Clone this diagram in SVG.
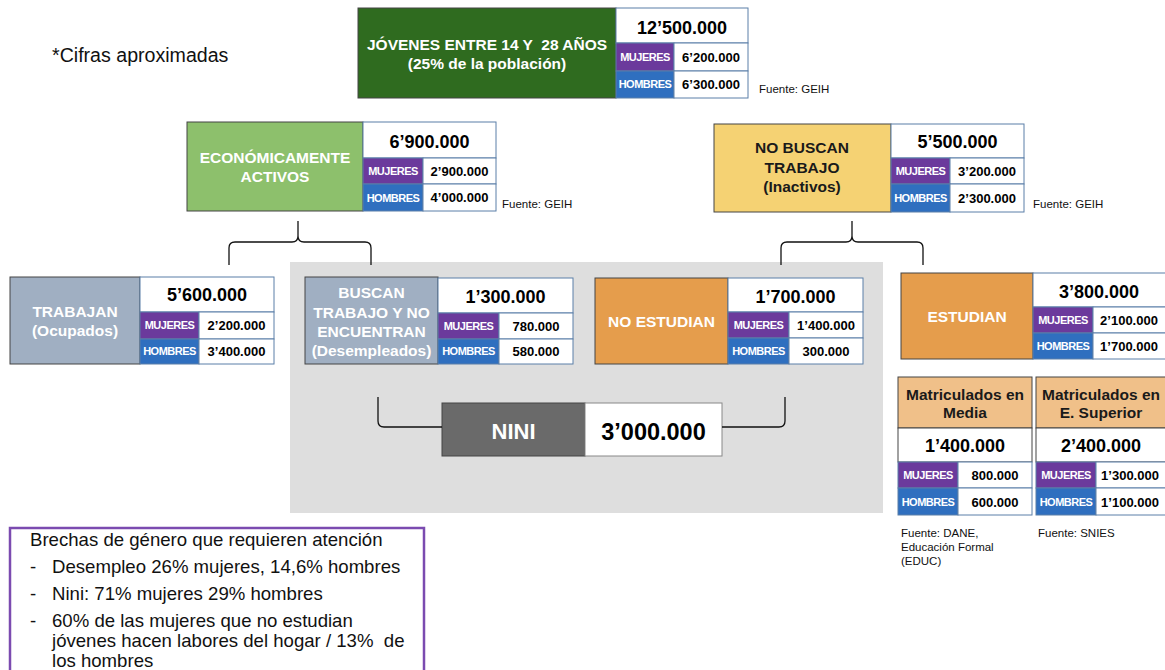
<svg xmlns="http://www.w3.org/2000/svg" width="1165" height="670" viewBox="0 0 1165 670">
<style>
text{font-family:"Liberation Sans",Arial,Helvetica,sans-serif}
.lb{stroke:#444;stroke-width:1}
.v{fill:#fff;stroke:#5b7fa8;stroke-width:1}
.mj{fill:#6b3a9c;stroke:#5b7fa8;stroke-width:1}
.hb{fill:#2f6fbf;stroke:#5b7fa8;stroke-width:1}
.t{font-weight:bold;font-size:15.5px;fill:#fff;text-anchor:middle}
.td{font-weight:bold;font-size:15.5px;fill:#1a1a1a;text-anchor:middle}
.big{font-weight:bold;font-size:18px;fill:#000;text-anchor:middle}
.sm{font-weight:bold;font-size:13px;fill:#000;text-anchor:middle}
.tag{font-weight:bold;font-size:11px;fill:#fff;text-anchor:middle;letter-spacing:-0.5px}
.src{font-size:11.5px;fill:#111}
.br{fill:none;stroke:#111;stroke-width:1.3}
.note{font-size:18.6px;fill:#111}
</style>

<rect id="nini-area" x="290" y="262" width="593" height="251" fill="#dedede"/>

<text x="52" y="62" style="font-size:19.6px;fill:#111">*Cifras aproximadas</text>

<g id="jovenes">
<rect class="lb" x="358" y="8" width="258" height="90" fill="#2f6b1f"/>
<text class="t" x="487" y="50" style="white-space:pre">JÓVENES ENTRE 14 Y  28 AÑOS</text>
<text class="t" x="487" y="69">(25% de la población)</text>
<rect class="v" x="616" y="8" width="132" height="35"/>
<rect class="mj" x="616" y="43" width="58" height="28"/>
<rect class="v" x="674" y="43" width="74" height="28"/>
<rect class="hb" x="616" y="71" width="58" height="27"/>
<rect class="v" x="674" y="71" width="74" height="27"/>
<text class="big" x="682" y="34">12’500.000</text>
<text class="tag" x="645" y="61">MUJERES</text>
<text class="tag" x="645" y="88">HOMBRES</text>
<text class="sm" x="711" y="62">6’200.000</text>
<text class="sm" x="711" y="89">6’300.000</text>
<text class="src" x="759" y="93">Fuente: GEIH</text>
</g>

<g id="activos">
<rect class="lb" x="187" y="122" width="176" height="89" fill="#8dc06c"/>
<text class="t" x="275" y="163">ECONÓMICAMENTE</text>
<text class="t" x="275" y="182">ACTIVOS</text>
<rect class="v" x="363" y="122" width="133" height="36"/>
<rect class="mj" x="363" y="158" width="60" height="26"/>
<rect class="v" x="423" y="158" width="73" height="26"/>
<rect class="hb" x="363" y="184" width="60" height="27"/>
<rect class="v" x="423" y="184" width="73" height="27"/>
<text class="big" x="429.5" y="148">6’900.000</text>
<text class="tag" x="393" y="175">MUJERES</text>
<text class="tag" x="393" y="202">HOMBRES</text>
<text class="sm" x="459.5" y="176">2’900.000</text>
<text class="sm" x="459.5" y="202">4’000.000</text>
<text class="src" x="502" y="208">Fuente: GEIH</text>
</g>

<g id="inactivos">
<rect class="lb" x="714" y="124" width="177" height="88" fill="#f5d273"/>
<text class="td" x="802" y="153">NO BUSCAN</text>
<text class="td" x="802" y="173">TRABAJO</text>
<text class="td" x="802" y="192">(Inactivos)</text>
<rect class="v" x="891" y="124" width="133" height="34"/>
<rect class="mj" x="891" y="158" width="59" height="26"/>
<rect class="v" x="950" y="158" width="74" height="26"/>
<rect class="hb" x="891" y="184" width="59" height="28"/>
<rect class="v" x="950" y="184" width="74" height="28"/>
<text class="big" x="957.5" y="148">5’500.000</text>
<text class="tag" x="920.5" y="175">MUJERES</text>
<text class="tag" x="920.5" y="202">HOMBRES</text>
<text class="sm" x="987" y="176">3’200.000</text>
<text class="sm" x="987" y="203">2’300.000</text>
<text class="src" x="1033" y="208">Fuente: GEIH</text>
</g>

<g id="trabajan">
<rect class="lb" x="10" y="277" width="130" height="87" fill="#a0afc2"/>
<text class="t" x="75" y="317">TRABAJAN</text>
<text class="t" x="75" y="336">(Ocupados)</text>
<rect class="v" x="140" y="277" width="134" height="35"/>
<rect class="mj" x="140" y="312" width="59" height="27"/>
<rect class="v" x="199" y="312" width="75" height="27"/>
<rect class="hb" x="140" y="339" width="59" height="25"/>
<rect class="v" x="199" y="339" width="75" height="25"/>
<text class="big" x="207" y="301">5’600.000</text>
<text class="tag" x="169.5" y="329">MUJERES</text>
<text class="tag" x="169.5" y="355">HOMBRES</text>
<text class="sm" x="236.5" y="330">2’200.000</text>
<text class="sm" x="236.5" y="356">3’400.000</text>
</g>

<g id="desempleados">
<rect class="lb" x="305" y="277" width="133" height="87" fill="#a0afc2"/>
<text class="t" x="371.5" y="298">BUSCAN</text>
<text class="t" x="371.5" y="318">TRABAJO Y NO</text>
<text class="t" x="371.5" y="337">ENCUENTRAN</text>
<text class="t" x="371.5" y="356">(Desempleados)</text>
<rect class="v" x="438" y="278" width="135" height="35"/>
<rect class="mj" x="438" y="313" width="61" height="26"/>
<rect class="v" x="499" y="313" width="74" height="26"/>
<rect class="hb" x="438" y="339" width="61" height="25"/>
<rect class="v" x="499" y="339" width="74" height="25"/>
<text class="big" x="505.5" y="303">1’300.000</text>
<text class="tag" x="468.5" y="330">MUJERES</text>
<text class="tag" x="468.5" y="355">HOMBRES</text>
<text class="sm" x="536" y="331">780.000</text>
<text class="sm" x="536" y="356">580.000</text>
</g>

<g id="no-estudian">
<rect class="lb" x="595" y="278" width="133" height="86" fill="#e59d4c"/>
<text class="t" x="661.5" y="327">NO ESTUDIAN</text>
<rect class="v" x="728" y="278" width="135" height="34"/>
<rect class="mj" x="728" y="312" width="61" height="26"/>
<rect class="v" x="789" y="312" width="74" height="26"/>
<rect class="hb" x="728" y="338" width="61" height="26"/>
<rect class="v" x="789" y="338" width="74" height="26"/>
<text class="big" x="795.5" y="303">1’700.000</text>
<text class="tag" x="758.5" y="329">MUJERES</text>
<text class="tag" x="758.5" y="355">HOMBRES</text>
<text class="sm" x="826" y="330">1’400.000</text>
<text class="sm" x="826" y="356">300.000</text>
</g>

<g id="estudian">
<rect class="lb" x="901" y="273" width="132" height="86" fill="#e59d4c"/>
<text class="t" x="967" y="322">ESTUDIAN</text>
<rect class="v" x="1033" y="273" width="133" height="34"/>
<rect class="mj" x="1033" y="307" width="60" height="26"/>
<rect class="v" x="1093" y="307" width="73" height="26"/>
<rect class="hb" x="1033" y="333" width="60" height="26"/>
<rect class="v" x="1093" y="333" width="73" height="26"/>
<text class="big" x="1099" y="298">3’800.000</text>
<text class="tag" x="1063" y="324">MUJERES</text>
<text class="tag" x="1063" y="350">HOMBRES</text>
<text class="sm" x="1129" y="325">2’100.000</text>
<text class="sm" x="1129" y="351">1’700.000</text>
</g>

<g id="nini">
<rect class="lb" x="442" y="403" width="143" height="53" fill="#6a6a6a"/>
<rect x="585" y="403" width="137" height="53" fill="#fff" stroke="#888" stroke-width="1"/>
<text x="513.5" y="439" style="font-weight:bold;font-size:22px;fill:#fff;text-anchor:middle">NINI</text>
<text x="653.5" y="440" style="font-weight:bold;font-size:23.5px;fill:#000;text-anchor:middle">3’000.000</text>
</g>

<g id="media">
<rect class="lb" x="898" y="377" width="134" height="51" fill="#f0c089"/>
<rect class="lb" x="898" y="428" width="134" height="34" fill="#fff"/>
<text class="td" x="965" y="400">Matriculados en</text>
<text class="td" x="965" y="418">Media</text>
<rect class="mj" x="898" y="462" width="60" height="26"/>
<rect class="v" x="958" y="462" width="74" height="26"/>
<rect class="hb" x="898" y="488" width="60" height="27"/>
<rect class="v" x="958" y="488" width="74" height="27"/>
<text class="big" x="965" y="452">1’400.000</text>
<text class="tag" x="928" y="479">MUJERES</text>
<text class="tag" x="928" y="506">HOMBRES</text>
<text class="sm" x="995" y="480">800.000</text>
<text class="sm" x="995" y="507">600.000</text>
<text class="src" x="901" y="537">Fuente: DANE,</text>
<text class="src" x="901" y="551">Educación Formal</text>
<text class="src" x="901" y="565">(EDUC)</text>
</g>

<g id="superior">
<rect class="lb" x="1036" y="377" width="131" height="51" fill="#f0c089"/>
<rect class="lb" x="1036" y="428" width="131" height="34" fill="#fff"/>
<text class="td" x="1101" y="400">Matriculados en</text>
<text class="td" x="1101" y="418">E. Superior</text>
<rect class="mj" x="1036" y="462" width="60" height="26"/>
<rect class="v" x="1096" y="462" width="71" height="26"/>
<rect class="hb" x="1036" y="488" width="60" height="27"/>
<rect class="v" x="1096" y="488" width="71" height="27"/>
<text class="big" x="1101" y="452">2’400.000</text>
<text class="tag" x="1066" y="479">MUJERES</text>
<text class="tag" x="1066" y="506">HOMBRES</text>
<text class="sm" x="1130" y="480">1’300.000</text>
<text class="sm" x="1130" y="507">1’100.000</text>
<text class="src" x="1038" y="537">Fuente: SNIES</text>
</g>

<g id="connectors">
<path class="br" d="M229,265 V248 Q229,242 235,242 H292 Q298,242 298,236 V221 M298,236 Q298,242 304,242 H365 Q371,242 371,248 V265"/>
<path class="br" d="M781,265 V248 Q781,242 787,242 H846 Q852,242 852,236 V221 M852,236 Q852,242 858,242 H917 Q923,242 923,248 V265"/>
<path class="br" d="M378,397 V421 Q378,427 384,427 H442"/>
<path class="br" d="M722,427 H779 Q785,427 785,421 V397"/>
</g>

<g id="brechas">
<rect x="10" y="528" width="414" height="160" fill="#fff" stroke="#7b4bb0" stroke-width="2.5"/>
<text class="note" x="30" y="546">Brechas de género que requieren atención</text>
<text class="note" x="30" y="573">-</text>
<text class="note" x="52" y="573">Desempleo 26% mujeres, 14,6% hombres</text>
<text class="note" x="30" y="600">-</text>
<text class="note" x="52" y="600">Nini: 71% mujeres 29% hombres</text>
<text class="note" x="30" y="627">-</text>
<text class="note" x="52" y="627">60% de las mujeres que no estudian</text>
<text class="note" x="52" y="647" style="white-space:pre">jóvenes hacen labores del hogar / 13%  de</text>
<text class="note" x="52" y="667">los hombres</text>
</g>
</svg>
